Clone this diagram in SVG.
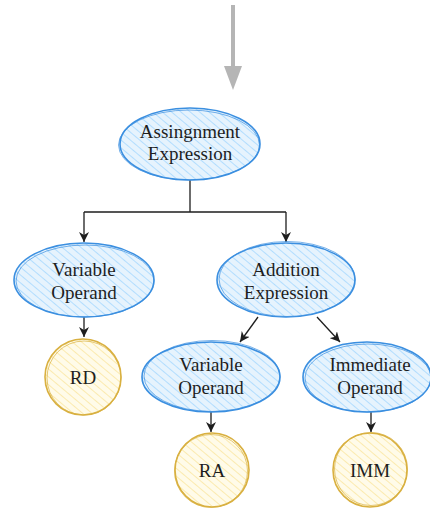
<svg xmlns="http://www.w3.org/2000/svg" width="430" height="511" viewBox="0 0 430 511">
<defs>
<style>
text{font-family:"Liberation Serif","DejaVu Serif",serif;font-size:19px;fill:#1e1e1e;text-anchor:middle}
.be{fill:url(#hb);stroke:#3b8fe0;stroke-width:1.6}
.be2{fill:none;stroke:#3b8fe0;stroke-width:1;opacity:0.7}
.yc{fill:url(#hy);stroke:#d9b040;stroke-width:1.6}
.yc2{fill:none;stroke:#d9b040;stroke-width:1;opacity:0.7}
.c{fill:none;stroke:#1e1e1e;stroke-width:1.3}
</style>
<pattern id="hb" patternUnits="userSpaceOnUse" width="6" height="6" patternTransform="rotate(-50)">
<rect width="6" height="6" fill="#e6f3fd"/>
<line x1="0" y1="0" x2="0" y2="6" stroke="#a5d8ff" stroke-width="1.6"/>
</pattern>
<pattern id="hy" patternUnits="userSpaceOnUse" width="6" height="6" patternTransform="rotate(-50)">
<rect width="6" height="6" fill="#fffbe9"/>
<line x1="0" y1="0" x2="0" y2="6" stroke="#fbe6a0" stroke-width="1.6"/>
</pattern>
<marker id="ah" viewBox="0 0 10 10" refX="10" refY="5" markerWidth="10" markerHeight="10" markerUnits="userSpaceOnUse" orient="auto">
<path d="M0,0 L10,5 L0,10 L3,5 Z" fill="#1e1e1e"/>
</marker>
</defs>
<g id="connectors">
<line x1="233" y1="5" x2="233" y2="66" stroke="#b5b5b5" stroke-width="4"/>
<path d="M224,66 L242,66 L233,90 Z" fill="#b5b5b5"/>
<path class="c" d="M190,180 L190,212 M84,212 L286,212"/>
<line class="c" x1="84" y1="212" x2="84" y2="242" marker-end="url(#ah)"/>
<line class="c" x1="286" y1="212" x2="286" y2="242" marker-end="url(#ah)"/>
<line class="c" x1="84" y1="317" x2="84" y2="337" marker-end="url(#ah)"/>
<line class="c" x1="258" y1="317" x2="240" y2="342" marker-end="url(#ah)"/>
<line class="c" x1="317" y1="317" x2="340" y2="342" marker-end="url(#ah)"/>
<line class="c" x1="211" y1="412" x2="211" y2="432" marker-end="url(#ah)"/>
<line class="c" x1="371" y1="412" x2="371" y2="432" marker-end="url(#ah)"/>
</g>
<g id="assign">
<ellipse class="be" cx="190" cy="144" rx="70" ry="36"/>
<ellipse class="be2" cx="189" cy="145" rx="70.5" ry="35"/>
<text x="190" y="138">Assingnment</text>
<text x="190" y="160">Expression</text>
</g>
<g id="var1">
<ellipse class="be" cx="84" cy="280" rx="70" ry="37"/>
<ellipse class="be2" cx="85" cy="281" rx="69" ry="36"/>
<text x="84" y="276">Variable</text>
<text x="84" y="299">Operand</text>
</g>
<g id="add">
<ellipse class="be" cx="286" cy="280" rx="69" ry="37"/>
<ellipse class="be2" cx="287" cy="279" rx="68" ry="37.5"/>
<text x="286" y="276">Addition</text>
<text x="286" y="299">Expression</text>
</g>
<g id="var2">
<ellipse class="be" cx="211" cy="377" rx="69" ry="35"/>
<ellipse class="be2" cx="212" cy="376" rx="68" ry="35.5"/>
<text x="211" y="371">Variable</text>
<text x="211" y="394">Operand</text>
</g>
<g id="imm">
<ellipse class="be" cx="367" cy="377" rx="64" ry="35"/>
<ellipse class="be2" cx="368" cy="378" rx="63" ry="34"/>
<text x="370" y="371">Immediate</text>
<text x="370" y="394">Operand</text>
</g>
<g id="rd">
<circle class="yc" cx="83" cy="377" r="38"/>
<circle class="yc2" cx="84" cy="378" r="37"/>
<text x="83" y="384">RD</text>
</g>
<g id="ra">
<circle class="yc" cx="212" cy="470" r="37"/>
<circle class="yc2" cx="211" cy="471" r="36.5"/>
<text x="212" y="477">RA</text>
</g>
<g id="immc">
<circle class="yc" cx="370" cy="470" r="37"/>
<circle class="yc2" cx="371" cy="469" r="36.5"/>
<text x="370" y="477">IMM</text>
</g>
</svg>
